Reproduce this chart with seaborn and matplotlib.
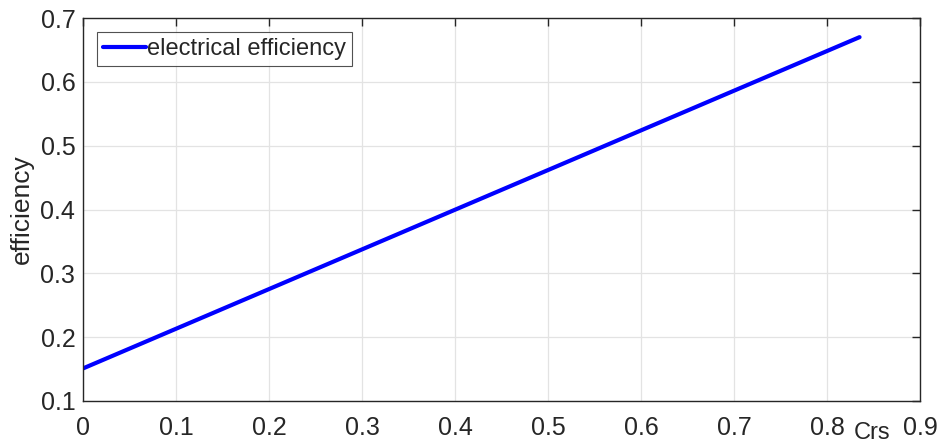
import matplotlib
matplotlib.use("Agg")
import matplotlib.pyplot as plt
import seaborn as sns
import pandas as pd

crs = [0.0, 0.835]
efficiency = [0.151, 0.670]
series_name = "electrical efficiency"
xticks = [0, 0.1, 0.2, 0.3, 0.4, 0.5, 0.6, 0.7, 0.8, 0.9]
yticks = [0.1, 0.2, 0.3, 0.4, 0.5, 0.6, 0.7]

sns.set_style("white")
plt.rcParams['font.family'] = ['Liberation Sans', 'DejaVu Sans']

df = pd.DataFrame({"Crs": crs, "efficiency": efficiency, "series": series_name})

fig = plt.figure(figsize=(9.4, 4.46), dpi=100)
ax = fig.add_axes([83/940, 45/446, (920-83)/940, (401-18)/446])

sns.lineplot(data=df, x="Crs", y="efficiency", hue="series", palette=["#0000ff"],
             linewidth=3, ax=ax)

ax.set_xlim(0, 0.9)
ax.set_ylim(0.1, 0.7)
ax.set_xticks(xticks)
ax.set_yticks(yticks)
ax.set_xticklabels(["0" if t == 0 else f"{t:g}" for t in xticks])
ax.set_yticklabels([f"{t:g}" for t in yticks])
ax.tick_params(axis="both", direction="in", length=6, width=1, colors="#262626",
               labelsize=18, top=True, right=True)
ax.tick_params(axis="x", pad=11)
ax.tick_params(axis="y", pad=5.5)
ax.grid(True, color="#e3e3e3", linewidth=0.9)
for s in ax.spines.values():
    s.set_color("#262626")
    s.set_linewidth(1)

ax.set_xlabel("")
ax.set_ylabel("efficiency", fontsize=19, color="#262626")
ax.yaxis.set_label_coords(-0.0585, 0.5)
ax.text(0.848, 0.050, "Crs", transform=ax.transData, fontsize=17, color="#262626",
        ha="center", va="center", clip_on=False)

leg = ax.legend(loc="upper left", fontsize=17, frameon=True, fancybox=False,
                edgecolor="#262626", handlelength=1.8, handletextpad=0.08,
                borderpad=0.25, borderaxespad=0.6)
leg.get_frame().set_linewidth(0.8)
for h in leg.get_lines():
    h.set_linewidth(3)

fig.savefig("out.png", dpi=100, facecolor="white")
